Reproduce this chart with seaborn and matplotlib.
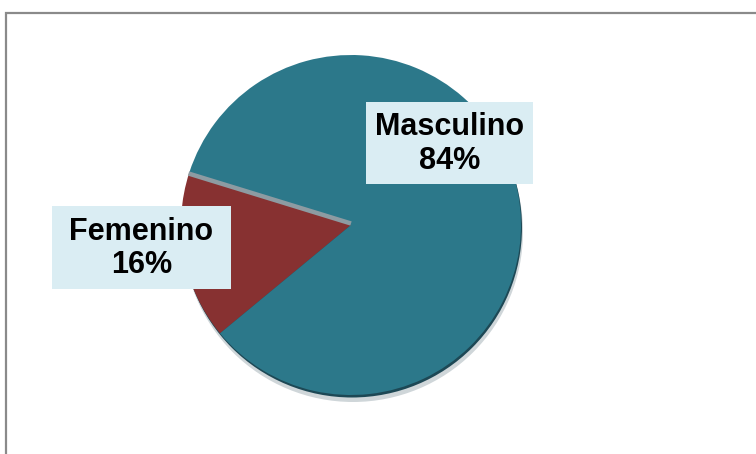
import matplotlib
matplotlib.use("Agg")
import matplotlib.pyplot as plt
from matplotlib.patches import Rectangle, Circle
import numpy as np
import seaborn as sns

# Distribution by sex
categories = ["Femenino", "Masculino"]
shares = [16, 84]

sns.set_theme(style="white")
plt.rcParams["font.family"] = ["Liberation Sans", "DejaVu Sans"]

colors = ["#873131", "#2c788a"]

W, H = 756, 454
fig = plt.figure(figsize=(W / 100, H / 100), dpi=100)
ax = fig.add_axes([0, 0, 1, 1])

# outer frame (runs off the right and bottom edges)
ax.add_patch(Rectangle((5.5, -20), 900, H - 12.5 + 20, fill=False,
                       edgecolor="#8a8a8a", linewidth=1.6, zorder=0))

cx, cy, r = 351, 229, 170
start = 162

# soft drop shadow under the disc
ax.add_patch(Circle((cx + 2, cy - 7), r, facecolor="#cfd6d9", edgecolor="none", zorder=1))
ax.add_patch(Circle((cx + 1, cy - 2.5), r, facecolor="#1d4855", edgecolor="none", zorder=1.5))

wedges, _ = ax.pie(shares, colors=colors, startangle=start, counterclock=True,
                   center=(cx, cy), radius=r, frame=True,
                   wedgeprops=dict(linewidth=0))
for w in wedges:
    w.set_zorder(2)
ax.set_xlim(0, W)
ax.set_ylim(0, H)
ax.set_axis_off()

# grey bevel along the edge where the slices meet
a = np.deg2rad(start + 0.9)
ax.plot([cx, cx + r * np.cos(a)], [cy + 1.5, cy + 1.5 + r * np.sin(a)],
        color="#8d9ba2", linewidth=3.2, solid_capstyle="butt", zorder=3)

# label boxes
boxes = {"Femenino": (52, 206, 231, 289), "Masculino": (366, 102, 533, 184)}
for name, val in zip(categories, shares):
    x0, y0, x1, y1 = boxes[name]
    ax.add_patch(Rectangle((x0, H - y1), x1 - x0, y1 - y0, facecolor="#daedf3",
                           edgecolor="none", zorder=4))
    ax.text((x0 + x1) / 2, H - (y0 + y1) / 2 - 1, f"{name}\n{val}%", ha="center",
            va="center", fontsize=22, fontweight="bold", color="black",
            linespacing=1.15, zorder=5)

fig.savefig("out.png", dpi=100, facecolor="white")
